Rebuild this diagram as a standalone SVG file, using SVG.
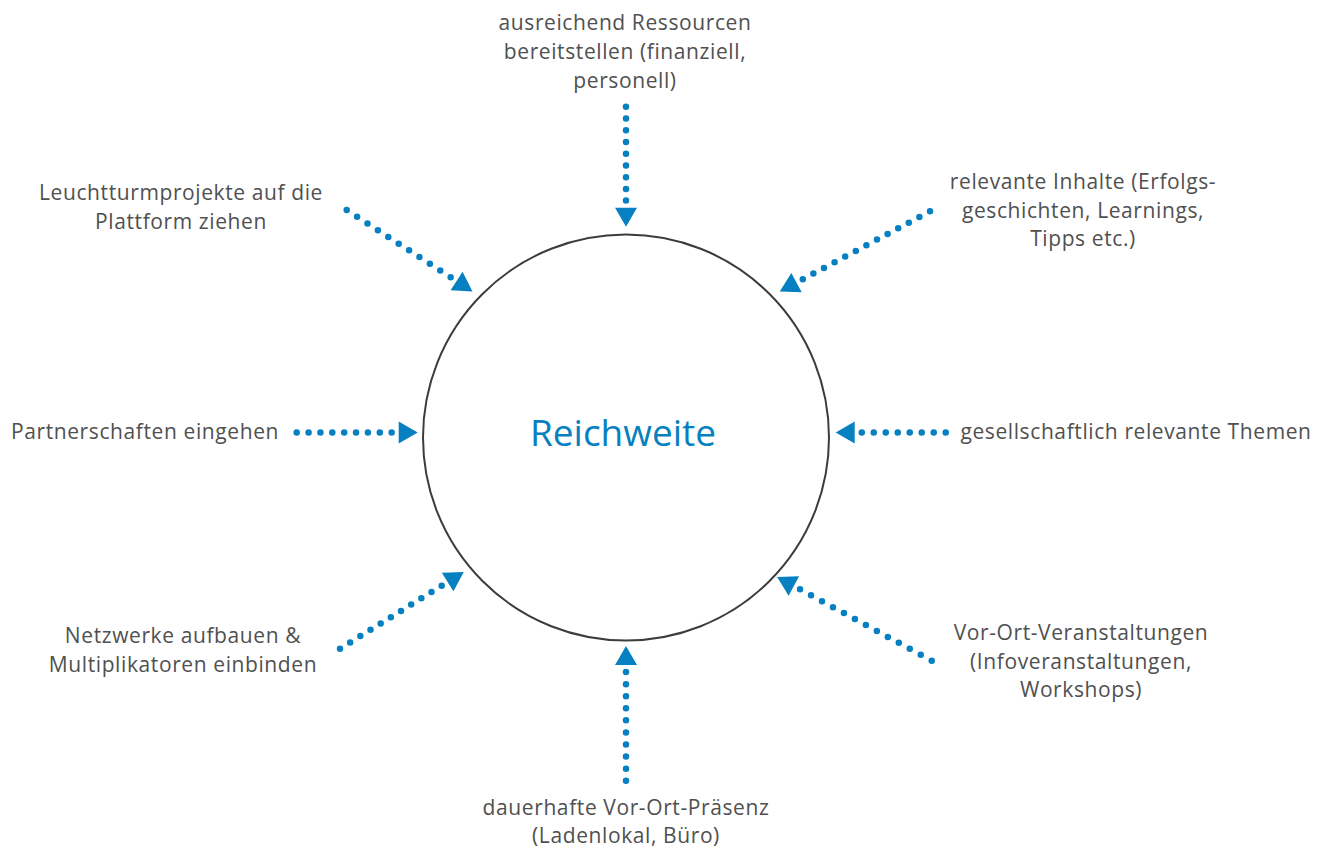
<svg xmlns="http://www.w3.org/2000/svg" width="1317" height="848" viewBox="0 0 1317 848">
<style>
.lbl{font-family:"Open Sans","Liberation Sans",sans-serif;font-size:21px;letter-spacing:0.6px;fill:#505050;text-anchor:middle}
.dot{fill:none;stroke:#0780c1;stroke-width:6.5;stroke-linecap:round}
.center{font-family:"Open Sans","Liberation Sans",sans-serif;font-size:37px;fill:#0780c1;text-anchor:middle}
</style>
<defs>
<marker id="arr" markerUnits="userSpaceOnUse" markerWidth="20" markerHeight="23" refX="-7" refY="11" orient="auto" overflow="visible">
<path d="M0,0 L19,11 L0,22 z" fill="#0780c1"/>
</marker>
</defs>
<rect width="1317" height="848" fill="#ffffff"/>
<g id="connectors">
<path class="dot" d="M626,106.7 L626,200.7" stroke-dasharray="0 11.74" marker-end="url(#arr)"/>
<path class="dot" d="M626,780.7 L626,672" stroke-dasharray="0 12.07" marker-end="url(#arr)"/>
<path class="dot" d="M296.7,432.5 L391.7,432.5" stroke-dasharray="0 11.87" marker-end="url(#arr)"/>
<path class="dot" d="M945.7,432.5 L861.7,432.5" stroke-dasharray="0 11.99" marker-end="url(#arr)"/>
<path class="dot" d="M346.7,210 L450.7,277.3" stroke-dasharray="0 12.38" marker-end="url(#arr)"/>
<path class="dot" d="M930,211.3 L802.7,279.3" stroke-dasharray="0 12.02" marker-end="url(#arr)"/>
<path class="dot" d="M340,648.7 L441.7,585.7" stroke-dasharray="0 11.96" marker-end="url(#arr)"/>
<path class="dot" d="M931.7,660.7 L800,589.3" stroke-dasharray="0 12.48" marker-end="url(#arr)"/>
</g>
<g id="reichweite">
<circle cx="626" cy="437.5" r="203" fill="none" stroke="#3c3c3c" stroke-width="2"/>
<text class="center" x="623" y="446">Reichweite</text>
</g>
<g id="ressourcen">
<text class="lbl" x="625" y="30">ausreichend Ressourcen</text>
<text class="lbl" x="625" y="59">bereitstellen (finanziell,</text>
<text class="lbl" x="625" y="88">personell)</text>
</g>
<g id="leuchtturm">
<text class="lbl" x="181" y="200">Leuchtturmprojekte auf die</text>
<text class="lbl" x="181" y="229">Plattform ziehen</text>
</g>
<g id="inhalte">
<text class="lbl" x="1083" y="189">relevante Inhalte (Erfolgs-</text>
<text class="lbl" x="1083" y="218">geschichten, Learnings,</text>
<text class="lbl" x="1083" y="246">Tipps etc.)</text>
</g>
<g id="partnerschaften">
<text class="lbl" x="145" y="439">Partnerschaften eingehen</text>
</g>
<g id="themen">
<text class="lbl" x="1136" y="439">gesellschaftlich relevante Themen</text>
</g>
<g id="netzwerke">
<text class="lbl" x="183" y="643">Netzwerke aufbauen &amp;</text>
<text class="lbl" x="183" y="672">Multiplikatoren einbinden</text>
</g>
<g id="veranstaltungen">
<text class="lbl" x="1081" y="640">Vor-Ort-Veranstaltungen</text>
<text class="lbl" x="1081" y="669">(Infoveranstaltungen,</text>
<text class="lbl" x="1081" y="697">Workshops)</text>
</g>
<g id="praesenz">
<text class="lbl" x="626" y="815">dauerhafte Vor-Ort-Präsenz</text>
<text class="lbl" x="626" y="843">(Ladenlokal, Büro)</text>
</g>
</svg>
